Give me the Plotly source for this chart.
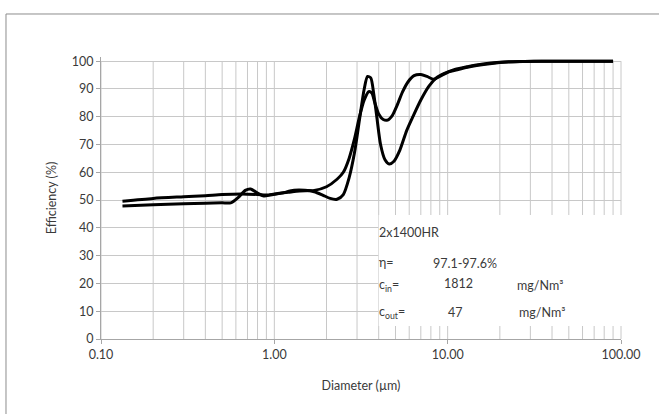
import math
import plotly.graph_objects as go

# ---- data ----
diam_a = [0.133, 0.2, 0.3, 0.4, 0.5, 0.56, 0.62, 0.68, 0.73, 0.8, 0.87, 0.95, 1.1, 1.3, 1.5, 1.7,
          1.9, 2.1, 2.3, 2.5, 2.7, 2.9, 3.1, 3.3, 3.45, 3.6, 3.75, 3.9, 4.1, 4.35, 4.6, 4.9, 5.3,
          5.8, 6.3, 7.0, 7.8, 8.6, 9.5, 11, 13, 16, 20, 26, 35, 50, 70, 90]
eff_a = [47.9, 48.3, 48.7, 48.9, 49.0, 49.0, 51.0, 53.5, 54.0, 52.5, 51.5, 51.8, 52.5, 53.5, 53.5, 53.0,
         51.8, 50.6, 50.3, 52.0, 58.0, 67.0, 79.0, 90.0, 94.5, 94.0, 88.0, 80.0, 70.0, 64.5, 63.0, 64.0, 68.0,
         75.0, 80.0, 86.0, 91.0, 94.0, 95.5, 97.0, 98.0, 99.0, 99.6, 99.9, 100, 100, 100, 100]

diam_b = [0.133, 0.2, 0.3, 0.4, 0.5, 0.65, 0.8, 0.9, 1.0, 1.2, 1.4, 1.7, 2.0, 2.3, 2.5, 2.7, 2.9, 3.1,
          3.3, 3.5, 3.65, 3.8, 4.0, 4.25, 4.5, 4.8, 5.1, 5.5, 5.9, 6.4, 7.0, 7.6, 8.3, 9.0, 10, 11.5,
          13, 15, 18, 22, 28, 35, 50, 70, 90]
eff_b = [49.6, 50.6, 51.2, 51.6, 52.0, 52.2, 52.0, 51.8, 52.2, 52.8, 53.3, 53.5, 54.8, 57.5, 60.0, 65.0,
         72.0, 80.0, 86.0, 89.0, 88.5, 85.0, 81.0, 79.0, 78.8, 80.5, 84.0, 89.0, 92.5, 94.8, 95.2, 94.5,
         93.5, 94.5, 96.0, 97.0, 97.8, 98.5, 99.2, 99.7, 99.9, 100, 100, 100, 100]

x_tick_vals = [0.1, 1, 10, 100]
x_tick_text = ["0.10", "1.00", "10.00", "100.00"]

label_title = "2x1400HR"
label_eta = "\u03b7="
label_eta_val = "97.1-97.6%"
label_cin = "c<sub>in</sub>="
label_cin_val = "1812"
label_cout = "c<sub>out</sub>="
label_cout_val = "47"
label_unit = "mg/Nm\u00b3"

FONT = "Lato, 'Open Sans', sans-serif"
TXT = "#3a3a3a"
GRID = "#c8c8c8"

fig = go.Figure()
for xs, ys in [(diam_b, eff_b), (diam_a, eff_a)]:
    fig.add_trace(go.Scatter(x=xs, y=ys, mode="lines",
                             line=dict(color="black", width=3, shape="spline", smoothing=0.7),
                             showlegend=False, hoverinfo="skip"))

def px_x(d):
    return (math.log10(d) + 1) / 3.0

shapes = []
# vertical log gridlines, 0..100 only
for dec in [0.1, 1, 10]:
    for m in range(1, 10):
        v = dec * m
        shapes.append(dict(type="line", xref="paper", yref="y", x0=px_x(v), x1=px_x(v),
                           y0=0, y1=100, line=dict(color=GRID, width=1), layer="below"))
shapes.append(dict(type="line", xref="paper", yref="y", x0=1, x1=1, y0=0, y1=100,
                   line=dict(color=GRID, width=1), layer="below"))
# white label box
shapes.append(dict(type="rect", xref="paper", yref="y", x0=px_x(4.0), x1=1.006, y0=4.7, y1=44.6,
                   fillcolor="white", line=dict(width=0), layer="above"))
# outer chart border
shapes.append(dict(type="rect", xref="paper", yref="paper", x0=-0.1827, x1=1.4, y0=-0.6, y1=1.1525,
                   line=dict(color="#8c8c8c", width=1), fillcolor="rgba(0,0,0,0)", layer="above"))

ann = []
def add(text, xpx, yval):
    ann.append(dict(text=text, xref="paper", yref="y", x=(xpx - 101) / 520.0, y=yval,
                    xanchor="left", yanchor="middle", showarrow=False,
                    font=dict(family=FONT, size=12.5, color=TXT)))
add(label_title, 377, 38.5)
add(label_eta, 377, 27.7)
add(label_eta_val, 431, 27.2)
add(label_cin, 377, 19.4)
add(label_cin_val, 442, 20.0)
add(label_unit, 515, 19.4)
add(label_cout, 377, 9.7)
add(label_cout_val, 446, 9.4)
add(label_unit, 517, 9.7)

fig.update_layout(
    width=659, height=414,
    margin=dict(l=101, r=38, t=57, b=75),
    paper_bgcolor="white", plot_bgcolor="white",
    font=dict(family=FONT, size=12, color=TXT),
    shapes=shapes, annotations=ann,
    xaxis=dict(type="log", range=[-1, 2], tickvals=x_tick_vals, ticktext=x_tick_text,
               showgrid=False, showline=True, linecolor="#a6a6a6", linewidth=1,
               ticks="outside", ticklen=4, tickcolor="#a6a6a6", zeroline=False,
               tickfont=dict(size=12.5, color=TXT),
               title=dict(text="Diameter (\u00b5m)", standoff=20, font=dict(size=12.5, color=TXT))),
    yaxis=dict(range=[0, 101.5], dtick=10, tick0=0, showgrid=True, gridcolor=GRID, gridwidth=1,
               showline=True, linecolor="#a6a6a6", linewidth=1, ticks="outside", ticklen=4,
               tickcolor="#a6a6a6", zeroline=False, tickfont=dict(size=12.5, color=TXT),
               title=dict(text="Efficiency (%)", standoff=12, font=dict(size=12.5, color=TXT))),
)

fig.write_html("out.html", config={"displayModeBar": False},
               post_script="document.body.style.margin='0px';")
